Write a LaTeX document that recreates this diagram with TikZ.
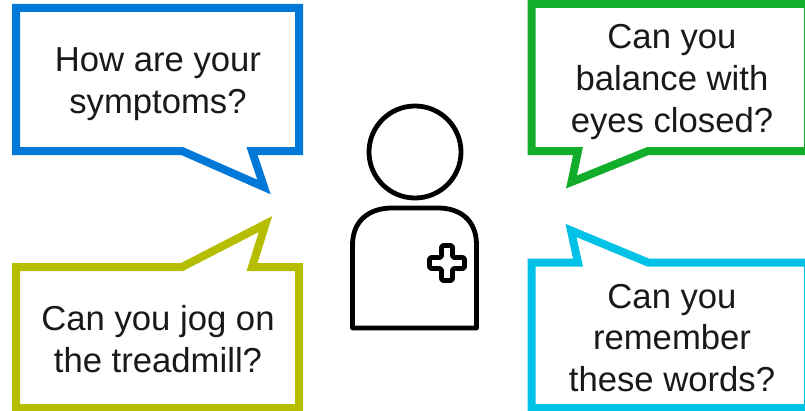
\documentclass[tikz,border=0pt]{standalone}
\usepackage{fontspec}
\setmainfont{Liberation Sans}
\definecolor{bubbleblue}{RGB}{0,120,215}
\definecolor{bubbleolive}{RGB}{181,189,0}
\definecolor{bubblegreen}{RGB}{18,173,43}
\definecolor{bubblecyan}{RGB}{0,193,230}
\begin{document}
\begin{tikzpicture}[x=0.75pt,y=-0.75pt,
    bubble/.style={line width=6pt,miter limit=10},
    question/.style={align=center,inner sep=0pt,text=black!90,
        font=\fontsize{26}{31.3}\selectfont},
    figure/.style={line width=3.6pt,line join=round}]

\useasboundingbox (0,0) rectangle (805,410);

% Geometry constants
\def\xa{16}           % left bubbles, left edge
\def\xb{299}          % left bubbles, right edge
\def\xc{531.5}        % right bubbles, left edge
\def\xd{808}          % right bubbles, right edge (off the page)
\def\yt{4}            % upper right bubble, top
\def\yu{8}            % upper left bubble, top
\def\ym{151}          % upper bubbles, bottom
\def\yn{267}          % lower bubbles, top
\def\yb{408}          % lower bubbles, bottom

% Upper left bubble
\draw[bubble,bubbleblue] (\xa,\yu) -- (\xb,\yu) -- (\xb,\ym) -- (252,\ym)
    -- (264,187) -- (182,\ym) -- (\xa,\ym) -- cycle;
\node[question] (symptoms) at (158,84) {How are your\\symptoms?};

% Lower left bubble
\draw[bubble,bubbleolive] (\xa,\yn) -- (182,\yn) -- (265.5,224) -- (252,\yn)
    -- (\xb,\yn) -- (\xb,\yb) -- (\xa,\yb) -- cycle;
\node[question] (treadmill) at (158,339) {Can you jog on\\the treadmill?};

% Upper right bubble
\draw[bubble,bubblegreen] (\xc,\yt) -- (\xd,\yt) -- (\xd,\ym) -- (648,\ym)
    -- (571.5,182) -- (578,\ym) -- (\xc,\ym) -- cycle;
\node[question] (balance) at (672,82) {Can you\\balance with\\eyes closed?};

% Lower right bubble
\draw[bubble,bubblecyan] (\xc,262.5) -- (578,262.5) -- (571,230.5) -- (648,262.5)
    -- (\xd,262.5) -- (\xd,\yb) -- (\xc,\yb) -- cycle;
\node[question] (words) at (672,338) {Can you\\remember\\these words?};

% Head
\draw[figure] (415,152) circle (46);

% Body
\draw[figure] (352.5,328) -- (352.5,245) .. controls (352.5,220) and (370,208) .. (392,208)
    -- (438,208) .. controls (460,208) and (476.5,220) .. (476.5,245)
    -- (476.5,328) -- cycle;

% Cross on the chest
\draw[figure,rounded corners=1.5pt] (441.5,245.5) -- (452.5,245.5) -- (452.5,257.5)
    -- (464.5,257.5) -- (464.5,268.5) -- (452.5,268.5) -- (452.5,280.5)
    -- (441.5,280.5) -- (441.5,268.5) -- (429.5,268.5) -- (429.5,257.5)
    -- (441.5,257.5) -- cycle;

\end{tikzpicture}
\end{document}
